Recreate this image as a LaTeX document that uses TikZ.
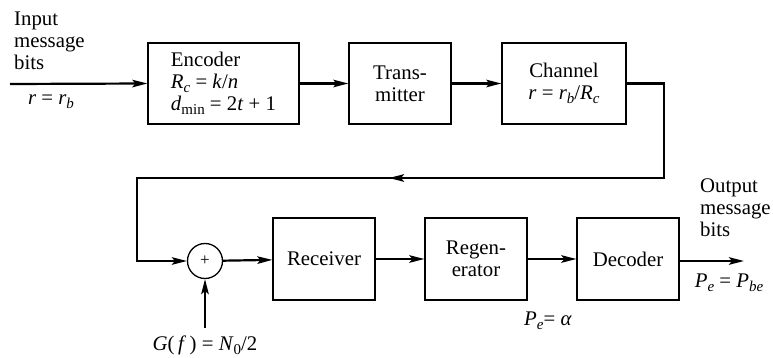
\documentclass[tikz,border=0pt]{standalone}
\usepackage{fontspec}
\setmainfont{Liberation Serif}
\usetikzlibrary{arrows.meta}
\newcommand\mysub[1]{\raisebox{-0.45ex}{\fontsize{15}{15}\selectfont\itshape #1}}
\begin{document}
\begin{tikzpicture}[x=1pt,y=-1pt, font=\fontsize{20.8}{21.8}\selectfont,
  blk/.style={draw, line width=1.3pt, minimum height=81pt, inner sep=0pt, align=center},
  wire/.style={line width=2.2pt},
  arr/.style={wire, -{Stealth[length=15pt,width=7.5pt,inset=3pt]}},
  lbl/.style={inner sep=0pt}]
\useasboundingbox (0,0) rectangle (773,358);
% top row
\node[blk, minimum width=151pt, align=left] (enc) at (223.5,83.5)
  {Encoder\\ \textit{R}\mysub{c} = \textit{k}/\textit{n}\\ \textit{d}\mysub{\upshape min} = 2\textit{t} + 1};
\node[blk, minimum width=102pt] (tx) at (400,83.5) {Trans-\\mitter};
\node[blk, minimum width=124pt] (ch) at (564,83.5) {Channel\\ \textit{r} = \textit{r}\mysub{b}/\textit{R}\mysub{c}};
% bottom row
\node[circle, draw, line width=1.3pt, minimum size=35pt, inner sep=0pt, font=\fontsize{17}{17}\selectfont] (sum) at (205,261) {+};
\node[blk, minimum width=102pt, minimum height=82pt] (rx) at (324,259) {Receiver};
\node[blk, minimum width=102pt, minimum height=82pt] (reg) at (476,259) {Regen-\\erator};
\node[blk, minimum width=102pt, minimum height=82pt] (dec) at (628,259) {Decoder};
% coordinates
\coordinate (in) at (10,84);
\coordinate (c1) at (664,178);
\coordinate (c2) at (137,178);
\coordinate (cm) at (389,178);
\coordinate (out) at (744,261);
\coordinate (noise) at (205,328);
% labels
\node[lbl, anchor=west, align=left] (inlbl) at (14,41) {Input\\message\\bits};
\node[lbl] (rlbl) at (51,102) {\textit{r} = \textit{r}\mysub{b}};
\node[lbl, anchor=west, align=left] (outlbl) at (700,208) {Output\\message\\bits};
\node[lbl] (pbe) at (729,283) {\textit{P}\mysub{e} = \textit{P}\mysub{be}};
\node[lbl] (pa) at (548,321) {\textit{P}\mysub{e}= \textit{α}};
\node[lbl] (g) at (205,345) {\textit{G}(\,\textit{f}\,) = \textit{N}\mysub{\upshape 0}/2};
% connectors
\draw[arr] (in) -- (enc.west);
\draw[arr] (enc) -- (tx);
\draw[arr] (tx) -- (ch);
\draw[arr] (ch.east) -| (c1) -- (c2) |- (sum.west);
\draw[arr] (c1) -- (cm);
\draw[arr] (sum) -- (rx);
\draw[arr] (rx) -- (reg);
\draw[arr] (reg) -- (dec);
\draw[arr] (dec.east |- out) -- (out);
\draw[arr] (noise) -- (sum.south);
\end{tikzpicture}
\end{document}
